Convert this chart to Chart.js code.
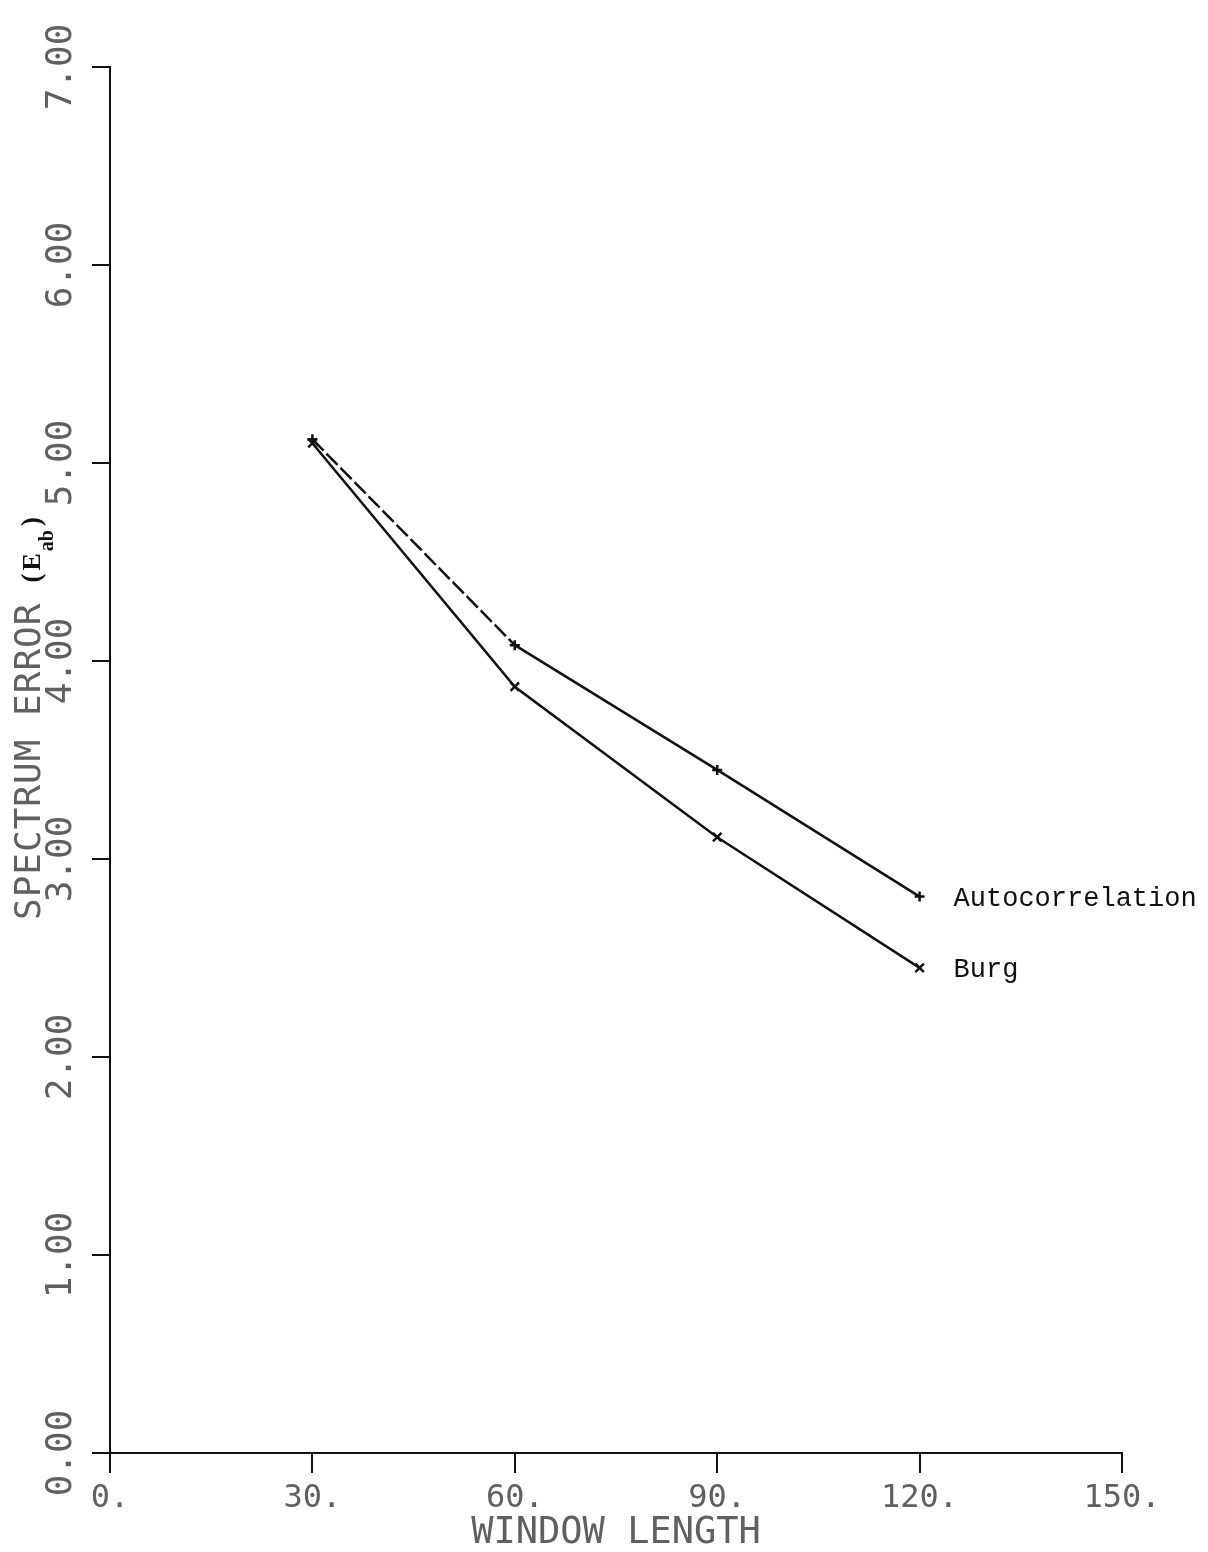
<!DOCTYPE html>
<html>
<head>
<meta charset="utf-8">
<script src="https://cdn.jsdelivr.net/npm/chart.js@4.4.0/dist/chart.umd.min.js"></script>
<style>
  html, body { margin: 0; padding: 0; background: #fff; }
  #wrap { width: 1208px; height: 1552px; position: relative; }
</style>
</head>
<body>
<div id="wrap"><canvas id="c" width="1208" height="1552"></canvas></div>
<script>
// ---- data ----
const windowLengths = [30, 60, 90, 120];
const autocorrelationError = [5.12, 4.08, 3.45, 2.81];
const burgError = [5.10, 3.87, 3.11, 2.45];
const seriesNames = ['Autocorrelation', 'Burg'];
const xTickValues = [0, 30, 60, 90, 120, 150];
const xTickLabels = ['0.', '30.', '60.', '90.', '120.', '150.'];
const yTickValues = [0, 1, 2, 3, 4, 5, 6, 7];
const yTickLabels = ['0.00', '1.00', '2.00', '3.00', '4.00', '5.00', '6.00', '7.00'];
const xAxisTitle = 'WINDOW LENGTH';
const yAxisTitle = 'SPECTRUM ERROR';
const yAxisSymbol = 'E';
const yAxisSubscript = 'ab';

const INK = '#111';
const PLOT_INK = '#606060';
const MONO = '"DejaVu Sans Mono", "Liberation Mono", monospace';

function toPoints(xs, ys) { return xs.map((x, i) => ({ x: x, y: ys[i] })); }

// direct labels next to the last point of each line
const endLabels = {
  id: 'endLabels',
  afterDatasetsDraw(chart) {
    const ctx = chart.ctx;
    ctx.save();
    ctx.font = '27px "Liberation Mono", "DejaVu Sans Mono", monospace';
    ctx.fillStyle = INK;
    ctx.textAlign = 'left';
    ctx.textBaseline = 'middle';
    chart.data.datasets.forEach((ds, i) => {
      const meta = chart.getDatasetMeta(i);
      const pt = meta.data[meta.data.length - 1];
      ctx.fillText(ds.label, pt.x + 34, pt.y + 2);
    });
    ctx.restore();
  }
};

// rotated y axis title with subscript
const yTitle = {
  id: 'yTitle',
  afterDraw(chart) {
    const ctx = chart.ctx;
    ctx.save();
    ctx.translate(40, 920);
    ctx.rotate(-Math.PI / 2);
    ctx.textAlign = 'left';
    ctx.textBaseline = 'alphabetic';
    ctx.fillStyle = PLOT_INK;
    ctx.font = '36px ' + MONO;
    ctx.letterSpacing = '1px';
    ctx.fillText(yAxisTitle, 0, 0);
    let pos = ctx.measureText(yAxisTitle).width + 20;
    ctx.letterSpacing = '0px';
    ctx.fillStyle = INK;
    ctx.font = 'bold 27px "Liberation Serif", serif';
    ctx.fillText('(', pos, 0);
    pos += ctx.measureText('(').width + 3;
    ctx.font = 'bold 26px "Liberation Serif", serif';
    ctx.fillText(yAxisSymbol, pos, 0);
    pos += ctx.measureText(yAxisSymbol).width + 2;
    ctx.font = 'bold 20px "Liberation Serif", serif';
    ctx.fillText(yAxisSubscript, pos, 13);
    pos += ctx.measureText(yAxisSubscript).width + 4;
    ctx.font = 'bold 27px "Liberation Serif", serif';
    ctx.fillText(')', pos, 0);
    ctx.restore();
  }
};

new Chart(document.getElementById('c'), {
  type: 'line',
  data: {
    datasets: [
      {
        label: seriesNames[0],
        data: toPoints(windowLengths, autocorrelationError),
        borderColor: INK,
        backgroundColor: INK,
        borderWidth: 2.5,
        pointStyle: 'cross',
        pointRadius: 5,
        pointBorderWidth: 2.5,
        tension: 0,
        fill: false,
        segment: {
          borderDash: ctx => ctx.p0DataIndex === 0 ? [16, 4] : undefined
        }
      },
      {
        label: seriesNames[1],
        data: toPoints(windowLengths, burgError),
        borderColor: INK,
        backgroundColor: INK,
        borderWidth: 2.5,
        pointStyle: 'crossRot',
        pointRadius: 6,
        pointBorderWidth: 2.5,
        tension: 0,
        fill: false
      }
    ]
  },
  options: {
    responsive: false,
    animation: false,
    devicePixelRatio: 1,
    layout: { padding: { top: 67, right: 86, bottom: 0, left: 0 } },
    plugins: {
      legend: { display: false },
      tooltip: { enabled: false },
      title: { display: false }
    },
    scales: {
      x: {
        type: 'linear',
        min: 0,
        max: 150,
        afterFit(scale) { scale.height = 99; },
        afterBuildTicks(scale) { scale.ticks = xTickValues.map(v => ({ value: v })); },
        ticks: {
          autoSkip: false,
          maxRotation: 0,
          minRotation: 0,
          padding: 6,
          color: PLOT_INK,
          font: { family: MONO, size: 32 },
          callback: (v) => xTickLabels[xTickValues.indexOf(v)]
        },
        grid: {
          display: true,
          drawOnChartArea: false,
          drawTicks: true,
          tickLength: 20,
          color: INK,
          lineWidth: 2
        },
        border: { display: true, color: INK, width: 2 },
        title: {
          display: true,
          text: xAxisTitle,
          color: PLOT_INK,
          font: { family: MONO, size: 37, lineHeight: 1 },
          padding: { top: 0, bottom: 0 }
        }
      },
      y: {
        type: 'linear',
        min: 0,
        max: 7,
        afterFit(scale) { scale.width = 110; },
        afterBuildTicks(scale) { scale.ticks = yTickValues.map(v => ({ value: v })); },
        ticks: {
          autoSkip: false,
          minRotation: 90,
          maxRotation: 90,
          crossAlign: 'center',
          padding: -13,
          color: PLOT_INK,
          font: { family: MONO, size: 36 },
          callback: (v) => yTickLabels[yTickValues.indexOf(v)]
        },
        grid: {
          display: true,
          drawOnChartArea: false,
          drawTicks: true,
          tickLength: 18,
          color: INK,
          lineWidth: 2
        },
        border: { display: true, color: INK, width: 2 },
        title: { display: false }
      }
    }
  },
  plugins: [endLabels, yTitle]
});
</script>
</body>
</html>
